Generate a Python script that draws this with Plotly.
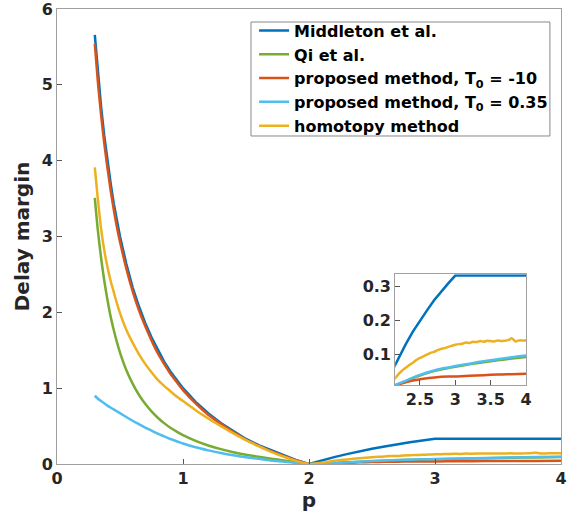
import plotly.graph_objects as go

# common p grid
p = [0.3, 0.325, 0.35, 0.375, 0.4, 0.425, 0.45, 0.475, 0.5, 0.55, 0.6, 0.65, 0.7, 0.75,
     0.8, 0.85, 0.9, 0.95, 1.0, 1.1, 1.2, 1.3, 1.4, 1.5, 1.6, 1.7, 1.8, 1.9, 2.0,
     2.1, 2.2, 2.3, 2.4, 2.5, 2.6, 2.7, 2.8, 2.9, 3.0, 3.2, 3.4, 3.6, 3.8, 4.0]

middleton = [5.66, 5.15, 4.71, 4.33, 4.00, 3.71, 3.44, 3.21, 3.00, 2.64, 2.33, 2.08, 1.86, 1.67,
             1.50, 1.35, 1.22, 1.11, 1.00, 0.82, 0.67, 0.54, 0.43, 0.33, 0.25, 0.18, 0.11, 0.05, 0.0,
             0.048, 0.091, 0.13, 0.167, 0.20, 0.23, 0.26, 0.286, 0.31, 0.333, 0.333, 0.333, 0.333, 0.333, 0.333]

qi = [3.51, 3.07, 2.72, 2.42, 2.17, 1.95, 1.77, 1.61, 1.47, 1.24, 1.06, 0.913, 0.793, 0.694,
      0.610, 0.539, 0.478, 0.426, 0.380, 0.304, 0.244, 0.196, 0.156, 0.123, 0.095, 0.070, 0.047, 0.024, 0.0,
      0.004, 0.012, 0.020, 0.029, 0.037, 0.044, 0.050, 0.055, 0.059, 0.063, 0.070, 0.076, 0.082, 0.087, 0.092]

prop_m10 = [5.54, 5.03, 4.60, 4.23, 3.91, 3.62, 3.36, 3.13, 2.93, 2.58, 2.28, 2.03, 1.82, 1.63,
            1.46, 1.32, 1.19, 1.08, 0.975, 0.80, 0.65, 0.53, 0.42, 0.32, 0.24, 0.17, 0.105, 0.048, 0.0,
            0.004, 0.011, 0.017, 0.022, 0.026, 0.029, 0.031, 0.033, 0.034, 0.034, 0.036, 0.038, 0.040, 0.041, 0.042]

prop_035 = [0.90, 0.86, 0.83, 0.80, 0.77, 0.745, 0.72, 0.695, 0.67, 0.62, 0.57, 0.525, 0.48, 0.44,
            0.40, 0.365, 0.33, 0.30, 0.27, 0.22, 0.18, 0.145, 0.115, 0.09, 0.068, 0.047, 0.03, 0.014, 0.0,
            0.004, 0.013, 0.021, 0.031, 0.039, 0.046, 0.052, 0.057, 0.061, 0.065, 0.072, 0.079, 0.085, 0.091, 0.096]

p_homotopy = [0.3, 0.325, 0.35, 0.375, 0.4, 0.425, 0.45, 0.475, 0.5, 0.55, 0.6, 0.65, 0.7, 0.75,
              0.8, 0.85, 0.9, 0.95, 1.0, 1.1, 1.2, 1.3, 1.4, 1.5, 1.6, 1.7, 1.8, 1.9, 2.0,
              2.05, 2.1, 2.15, 2.2, 2.25, 2.3, 2.35, 2.4, 2.45, 2.5, 2.55, 2.6, 2.65, 2.7, 2.75,
              2.8, 2.85, 2.9, 2.95, 3.0, 3.05, 3.1, 3.15, 3.2, 3.25, 3.3, 3.35, 3.4, 3.45, 3.5,
              3.55, 3.6, 3.65, 3.7, 3.75, 3.8, 3.85, 3.9, 3.95, 4.0]
homotopy = [3.91, 3.48, 3.10, 2.82, 2.60, 2.42, 2.27, 2.12, 1.99, 1.77, 1.60, 1.45, 1.32, 1.21,
            1.11, 1.03, 0.96, 0.89, 0.83, 0.71, 0.60, 0.50, 0.405, 0.315, 0.235, 0.16, 0.095, 0.04, 0.0,
            0.008, 0.016, 0.029, 0.042, 0.052, 0.060, 0.068, 0.075, 0.083, 0.089, 0.094, 0.099, 0.104, 0.107, 0.112,
            0.116, 0.118, 0.122, 0.125, 0.128, 0.130, 0.131, 0.135, 0.133, 0.137, 0.136, 0.139, 0.137, 0.140, 0.139,
            0.138, 0.141, 0.139, 0.140, 0.142, 0.147, 0.138, 0.141, 0.141, 0.141]

names = ["Middleton et al.", "Qi et al.", "proposed method, T<sub>0</sub> = -10",
         "proposed method, T<sub>0</sub> = 0.35", "homotopy method"]
colors = ["#0072BD", "#77AC30", "#D95319", "#4DBEEE", "#EDB120"]
shapes = ["linear", "spline", "spline", "spline", "spline"]
series_x = [p, p, p, p, p_homotopy]
series_y = [middleton, qi, prop_m10, prop_035, homotopy]

main_xticks = [0, 1, 2, 3, 4]
main_yticks = [0, 1, 2, 3, 4, 5, 6]
inset_xticks = [2.5, 3, 3.5, 4]
inset_yticks = [0.1, 0.2, 0.3]

fig = go.Figure()
for xs, ys, nm, c, sh in zip(series_x, series_y, names, colors, shapes):
    fig.add_trace(go.Scatter(x=xs, y=ys, mode="lines", name=nm,
                             line=dict(color=c, width=2.5, shape=sh, smoothing=0.8),
                             xaxis="x", yaxis="y"))
for xs, ys, nm, c, sh in zip(series_x, series_y, names, colors, shapes):
    fig.add_trace(go.Scatter(x=xs, y=ys, mode="lines", name=nm, showlegend=False,
                             line=dict(color=c, width=2.5, shape=sh, smoothing=0.8),
                             xaxis="x2", yaxis="y2"))

tickfont = dict(family="DejaVu Sans", size=16, color="#262626", weight="bold")
titlefont = dict(family="DejaVu Sans", size=20, color="#262626", weight="bold")
axcommon = dict(showline=True, linecolor="#a0a0a0", linewidth=1, mirror=True,
                ticks="inside", ticklen=5, tickcolor="#555555", showgrid=False,
                zeroline=False, tickfont=tickfont, automargin=False,
                ticklabeloverflow="allow")

fig.update_layout(
    width=577, height=518,
    margin=dict(l=57, r=16, t=9, b=54),
    paper_bgcolor="white", plot_bgcolor="white",
    xaxis=dict(range=[0, 4], tickvals=main_xticks, domain=[0, 1], anchor="y",
               title=dict(text="p", font=titlefont, standoff=4), **axcommon),
    yaxis=dict(range=[0, 6], tickvals=main_yticks, domain=[0, 1], anchor="x",
               title=dict(text="Delay margin", font=titlefont, standoff=6), **axcommon),
    xaxis2=dict(range=[2.15, 4], tickvals=inset_xticks, domain=[0.671, 0.9306], anchor="y2",
                **axcommon),
    yaxis2=dict(range=[0.008, 0.337], tickvals=inset_yticks, domain=[0.173, 0.417], anchor="x2",
                **axcommon),
    shapes=[dict(type="rect", xref="paper", yref="paper", x0=0.3849, x1=0.978, y0=0.7209, y1=0.9714,
                 fillcolor="white", line=dict(color="#888888", width=1), layer="above")],
    legend=dict(x=0.391, y=0.990, xanchor="left", yanchor="top",
                bgcolor="rgba(0,0,0,0)", borderwidth=0,
                font=dict(family="DejaVu Sans", size=16, color="black", weight="bold"),
                tracegroupgap=0, itemwidth=30),
    showlegend=True,
)

fig.write_html("out.html", config={"displayModeBar": False},
               post_script="document.body.style.margin='0px';")
